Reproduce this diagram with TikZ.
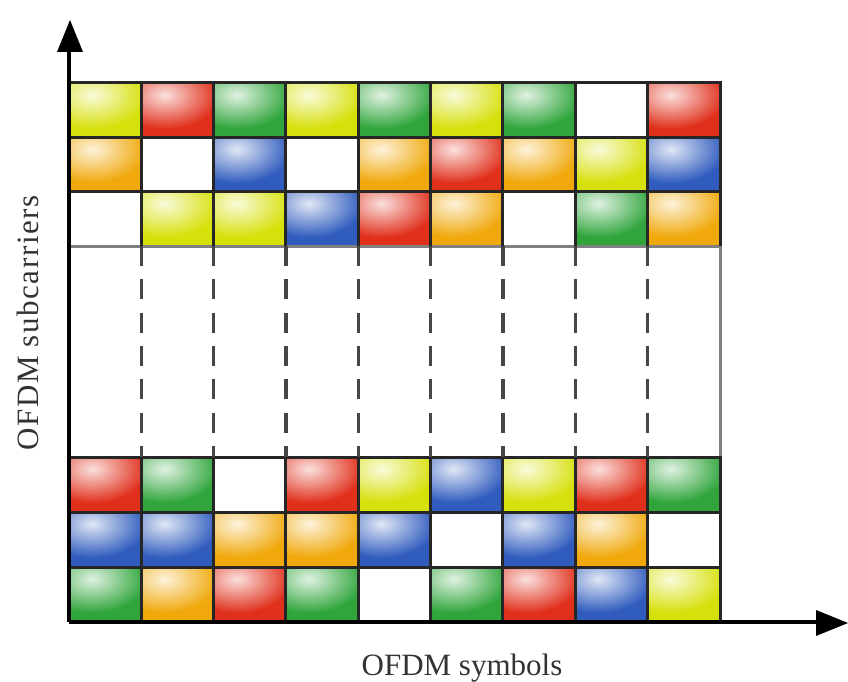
\documentclass[tikz,border=0pt]{standalone}
\usepackage{fontspec}
\setmainfont{Liberation Serif}
\newfontfamily\spacedserif[LetterSpace=5]{Liberation Serif}
\definecolor{cY}{RGB}{214,224,10}
\definecolor{cR}{RGB}{224,48,28}
\definecolor{cG}{RGB}{48,165,60}
\definecolor{cB}{RGB}{48,92,190}
\definecolor{cO}{RGB}{240,168,10}
\definecolor{cW}{RGB}{255,255,255}
\definecolor{dashgray}{RGB}{70,70,70}
\tikzset{
  gridline/.style={line width=3pt, black!85, line cap=rect},
  grayline/.style={line width=3pt, black!50},
  midline/.style={line width=3.4pt, dashgray, dash pattern=on 20pt off 13.3pt},
  axisline/.style={line width=3.6pt, black},
  headfill/.style={fill=black},
  labeltext/.style={text=black!80, font=\fontsize{31}{36}\selectfont, inner sep=0pt},
}
\begin{document}
\begin{tikzpicture}[x=1pt, y=-1pt]
\useasboundingbox (0,0) rectangle (848,682);
\def\cw{72.33}
% top block cells
\foreach \row [count=\r from 0] in {{cY,cR,cG,cY,cG,cY,cG,cW,cR},{cO,cW,cB,cW,cO,cR,cO,cY,cB},{cW,cY,cY,cB,cR,cO,cW,cG,cO}}{
  \foreach \c [count=\i from 0] in \row {
    \pgfmathsetmacro\xa{69+\cw*\i}
    \pgfmathsetmacro\ya{83+54.33*\r}
    \begin{scope}
      \clip (\xa,\ya) rectangle ++(\cw,54.33);
      \fill[\c] (\xa,\ya) rectangle ++(\cw,54.33);
      \shade[inner color=white!85!\c, outer color=\c] (\xa+0.32*\cw,\ya+12) ellipse [x radius=0.75*\cw, y radius=34];
    \end{scope}
  }
}
% bottom block cells
\foreach \row [count=\r from 0] in {{cR,cG,cW,cR,cY,cB,cY,cR,cG},{cB,cB,cO,cO,cB,cW,cB,cO,cW},{cG,cO,cR,cG,cW,cG,cR,cB,cY}}{
  \foreach \c [count=\i from 0] in \row {
    \pgfmathsetmacro\xa{69+\cw*\i}
    \pgfmathsetmacro\ya{457+55*\r}
    \begin{scope}
      \clip (\xa,\ya) rectangle ++(\cw,55);
      \fill[\c] (\xa,\ya) rectangle ++(\cw,55);
      \shade[inner color=white!85!\c, outer color=\c] (\xa+0.32*\cw,\ya+12) ellipse [x radius=0.75*\cw, y radius=34];
    \end{scope}
  }
}
% grid lines, top block
\foreach \y in {83,137.33,191.67} \draw[gridline] (69,\y) -- (720,\y);
\draw[grayline] (69,246) -- (720,246);
\foreach \i in {1,...,8} \draw[gridline] ({69+\cw*\i},83) -- ({69+\cw*\i},246);
% grid lines, bottom block
\foreach \y in {457,512,567} \draw[gridline] (69,\y) -- (720,\y);
\foreach \i in {1,...,8} \draw[gridline] ({69+\cw*\i},457) -- ({69+\cw*\i},622);
% right edge
\draw[gridline] (720,83) -- (720,246);
\draw[grayline] (720,246) -- (720,457);
\draw[gridline] (720,457) -- (720,622);
% dashed lines in the middle
\foreach \i in {1,...,8} \draw[midline] ({69+\cw*\i},246) -- ({69+\cw*\i},457);
% axes
\coordinate (O) at (69,622);
\coordinate (ytip) at (70,20);
\coordinate (xtip) at (848,623);
\draw[axisline] (O) -- (69,40);
\draw[axisline] (O) -- (830,622);
\fill[headfill] (ytip) -- (83,52) -- (57,52) -- cycle;
\fill[headfill] (xtip) -- (816,610) -- (816,636) -- cycle;
% labels
\node[labeltext, anchor=base] (xl) at (462,675) {OFDM symbols};
\node[labeltext, anchor=base, rotate=90] (yl) at (38,323) {\spacedserif OFDM subcarriers};
\end{tikzpicture}
\end{document}
